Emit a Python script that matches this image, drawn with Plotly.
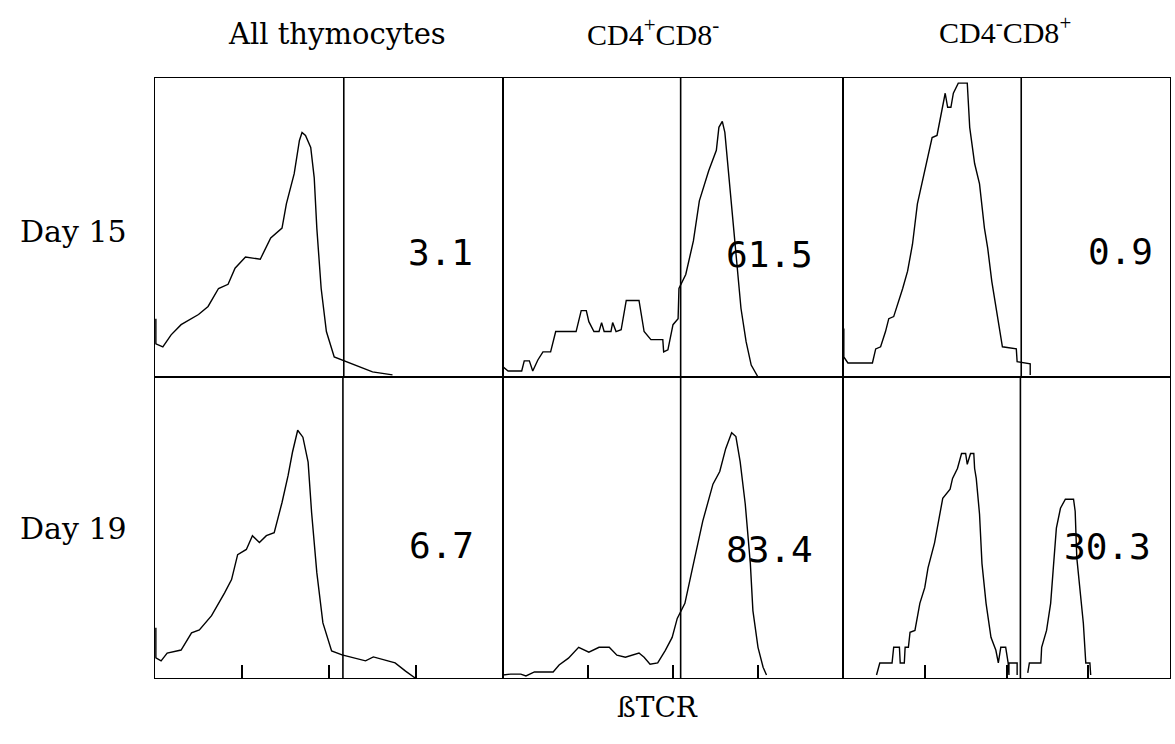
import plotly.graph_objects as go
from plotly.subplots import make_subplots

# ---- data: x = log10 βTCR fluorescence (decades 0-4), y = relative cell number (% of panel height)
d15_all_x = [0.01, 0.01, 0.09, 0.185, 0.30, 0.50, 0.61, 0.73, 0.84, 0.92, 1.04, 1.21, 1.33, 1.46, 1.51, 1.60, 1.66, 1.69, 1.73, 1.79, 1.83, 1.86, 1.91, 1.97, 2.06, 2.15, 2.35, 2.50, 2.73]
d15_all_y = [19.5, 11.1, 10.1, 14.1, 17.5, 20.9, 23.6, 29.6, 31.0, 36.4, 40.1, 39.4, 46.5, 49.8, 57.9, 68.0, 79.1, 81.8, 80.8, 76.8, 66.7, 49.8, 29.6, 15.2, 6.7, 5.7, 3.4, 1.7, 0.7]

d19_all_x = [0.01, 0.01, 0.07, 0.14, 0.30, 0.42, 0.51, 0.65, 0.80, 0.88, 0.95, 1.05, 1.12, 1.20, 1.28, 1.37, 1.46, 1.53, 1.58, 1.64, 1.70, 1.76, 1.80, 1.86, 1.93, 2.03, 2.15, 2.27, 2.42, 2.51, 2.65, 2.76, 2.88, 2.99]
d19_all_y = [16.7, 6.7, 5.7, 8.3, 9.3, 15.0, 16.0, 20.7, 28.3, 32.7, 41.0, 42.7, 47.3, 45.0, 47.3, 48.3, 58.3, 67.3, 75.0, 82.3, 80.0, 71.7, 55.0, 35.0, 18.3, 9.0, 7.7, 6.7, 5.7, 7.0, 6.0, 5.0, 2.3, 0.0]

d15_cd4_x = [0.0, 0.0, 0.06, 0.22, 0.25, 0.31, 0.35, 0.41, 0.47, 0.56, 0.62, 0.86, 0.92, 0.98, 1.01, 1.07, 1.13, 1.16, 1.19, 1.27, 1.29, 1.33, 1.39, 1.45, 1.60, 1.66, 1.74, 1.88, 1.89, 1.94, 2.00, 2.06, 2.07, 2.15, 2.24, 2.31, 2.42, 2.51, 2.54, 2.58, 2.61, 2.66, 2.71, 2.75, 2.80, 2.86, 2.92, 3.00]
d15_cd4_y = [10.8, 3.4, 2.0, 2.0, 5.4, 5.4, 2.0, 5.7, 8.4, 8.4, 15.2, 15.2, 22.2, 22.2, 18.5, 15.2, 15.2, 18.2, 15.2, 15.2, 18.2, 15.2, 15.8, 25.6, 25.6, 15.2, 12.5, 12.5, 8.4, 9.1, 17.5, 19.5, 29.6, 34.3, 45.5, 58.9, 69.0, 75.8, 83.5, 85.5, 81.8, 65.7, 49.8, 36.4, 22.9, 11.8, 4.0, 0.0]

d19_cd4_x = [0.0, 0.09, 0.21, 0.27, 0.37, 0.59, 0.66, 0.77, 0.89, 1.01, 1.13, 1.25, 1.34, 1.44, 1.60, 1.66, 1.73, 1.82, 1.91, 1.99, 2.05, 2.14, 2.23, 2.35, 2.47, 2.55, 2.62, 2.69, 2.74, 2.79, 2.85, 2.91, 2.94, 3.00, 3.06, 3.10]
d19_cd4_y = [1.0, 1.3, 1.3, 0.7, 2.0, 2.0, 4.3, 6.6, 10.2, 8.6, 10.2, 10.2, 7.6, 6.9, 8.3, 6.9, 4.6, 5.0, 9.2, 13.5, 19.8, 24.8, 36.6, 52.1, 64.4, 68.6, 76.2, 81.5, 80.2, 71.9, 57.8, 38.0, 22.4, 10.2, 3.6, 1.0]

d15_cd8_x = [0.01, 0.01, 0.06, 0.36, 0.40, 0.46, 0.52, 0.56, 0.62, 0.67, 0.73, 0.79, 0.85, 0.91, 0.97, 1.03, 1.09, 1.15, 1.20, 1.25, 1.28, 1.32, 1.35, 1.41, 1.52, 1.55, 1.61, 1.67, 1.73, 1.77, 1.82, 1.89, 1.95, 2.12, 2.13, 2.29, 2.29]
d15_cd8_y = [16.2, 6.7, 4.7, 4.7, 9.4, 10.1, 15.2, 19.5, 20.2, 24.2, 29.6, 35.4, 44.4, 57.9, 65.0, 72.4, 80.1, 80.8, 88.2, 94.9, 90.2, 90.2, 94.9, 98.3, 98.3, 83.5, 71.4, 64.6, 49.8, 43.1, 32.0, 19.5, 10.1, 9.4, 5.1, 4.4, 0.7]

d19_cd8_x = [0.41, 0.45, 0.60, 0.62, 0.69, 0.70, 0.75, 0.76, 0.80, 0.82, 0.88, 0.94, 1.00, 1.04, 1.12, 1.18, 1.22, 1.31, 1.34, 1.40, 1.45, 1.50, 1.52, 1.56, 1.60, 1.61, 1.63, 1.67, 1.70, 1.75, 1.81, 1.87, 1.90, 1.93, 1.99, 2.02, 2.03, 2.03, 2.13, 2.13,
             None,
             2.26, 2.28, 2.42, 2.43, 2.49, 2.54, 2.57, 2.61, 2.66, 2.72, 2.82, 2.84, 2.86, 2.90, 2.94, 2.97, 3.02, 3.03]
d19_cd8_y = [1.0, 5.0, 5.0, 10.2, 10.2, 5.0, 5.0, 10.2, 10.2, 15.2, 15.8, 24.8, 30.0, 36.6, 44.9, 53.1, 59.7, 62.7, 66.3, 69.6, 74.6, 74.6, 71.0, 74.6, 74.6, 69.6, 66.3, 54.5, 38.0, 24.8, 13.5, 9.2, 5.0, 10.2, 10.2, 5.0, 1.0, 5.0, 5.0, 1.0,
             None,
             1.7, 5.0, 5.0, 10.2, 15.8, 24.8, 35.6, 49.8, 56.4, 59.4, 59.4, 55.4, 39.9, 29.0, 18.2, 5.0, 5.0, 1.0]

# gate (marker) positions in decades, per panel [row][col]
gates = [[2.17, 2.09, 2.18], [2.16, 2.09, 2.17]]
# percentage of cells in the gate
pct_labels = [["3.1", "61.5", "0.9"], ["6.7", "83.4", "30.3"]]
col_titles = ["All thymocytes", "CD4<sup>+</sup>CD8<sup>-</sup>", "CD4<sup>-</sup>CD8<sup>+</sup>"]
row_titles = ["Day 15", "Day 19"]
x_title = "ßTCR"
decade_ticks = [1, 2, 3]

series = [[(d15_all_x, d15_all_y), (d15_cd4_x, d15_cd4_y), (d15_cd8_x, d15_cd8_y)],
          [(d19_all_x, d19_all_y), (d19_cd4_x, d19_cd4_y), (d19_cd8_x, d19_cd8_y)]]

# label anchor positions (decades, % height)
lab_x = [[3.28, 3.13, 3.39], [3.29, 3.13, 3.24]]
lab_y = [[41.8, 41.1, 42.1], [43.9, 42.6, 43.6]]

W, H = 1175, 744

fig = make_subplots(rows=2, cols=3, horizontal_spacing=0, vertical_spacing=0,
                    column_widths=[348, 340, 327])

serif = "DejaVu Serif"
mono = "DejaVu Sans Mono"

for r in range(2):
    for c in range(3):
        xs, ys = series[r][c]
        fig.add_trace(go.Scatter(x=xs, y=ys, mode="lines", connectgaps=False,
                                 line=dict(color="black", width=1.4), showlegend=False,
                                 hoverinfo="skip"), row=r + 1, col=c + 1)
        idx = r * 3 + c + 1
        xref = "x" if idx == 1 else f"x{idx}"
        yref = "y" if idx == 1 else f"y{idx}"
        fig.add_shape(type="line", xref=xref, yref=yref + " domain",
                      x0=gates[r][c], x1=gates[r][c], y0=0, y1=1,
                      line=dict(color="black", width=1.6))
        fig.add_annotation(x=lab_x[r][c], y=lab_y[r][c], xref=xref, yref=yref,
                           text=pct_labels[r][c], showarrow=False,
                           font=dict(family=mono, size=36, color="black"))
        fig.update_xaxes(range=[0, 4], showgrid=False, zeroline=False, showline=True,
                         mirror=True, linecolor="black", linewidth=1.3,
                         showticklabels=False,
                         ticks="inside" if r == 1 else "",
                         tickvals=decade_ticks, ticklen=13, tickwidth=1.5, tickcolor="black",
                         row=r + 1, col=c + 1)
        fig.update_yaxes(range=[0, 100], showgrid=False, zeroline=False, showline=True,
                         mirror=True, linecolor="black", linewidth=1.3,
                         showticklabels=False, ticks="", row=r + 1, col=c + 1)

# column titles
col_cx = [337, 653, 1005]
col_cy = [34, 32, 30]
col_font = [dict(family=serif, size=29, color="black"),
            dict(family="Liberation Serif", size=30, color="black"),
            dict(family="Liberation Serif", size=30, color="black")]
for c in range(3):
    fig.add_annotation(x=col_cx[c] / W, y=1 - col_cy[c] / H, xref="paper", yref="paper",
                       text=col_titles[c], showarrow=False, xanchor="center", yanchor="middle",
                       font=col_font[c])
row_cy = [231, 528]
for r in range(2):
    fig.add_annotation(x=73 / W, y=1 - row_cy[r] / H, xref="paper", yref="paper",
                       text=row_titles[r], showarrow=False, xanchor="center", yanchor="middle",
                       font=dict(family=serif, size=30, color="black"))
fig.add_annotation(x=657 / W, y=1 - 707 / H, xref="paper", yref="paper",
                   text=x_title, showarrow=False, xanchor="center", yanchor="middle",
                   font=dict(family=serif, size=28, color="black"))

fig.update_layout(width=W, height=H, margin=dict(l=0, r=0, t=0, b=0),
                  paper_bgcolor="white", plot_bgcolor="white")

# explicit panel domains (pixels -> figure fractions)
xd = [(155, 503), (503, 843), (843, 1170)]
yd = [(78, 377), (377, 678)]
for r in range(2):
    for c in range(3):
        idx = r * 3 + c + 1
        xa = "xaxis" if idx == 1 else f"xaxis{idx}"
        ya = "yaxis" if idx == 1 else f"yaxis{idx}"
        fig.layout[xa].domain = [xd[c][0] / W, xd[c][1] / W]
        fig.layout[ya].domain = [1 - yd[r][1] / H, 1 - yd[r][0] / H]

fig.write_html("out.html", config={"displayModeBar": False},
               post_script="document.body.style.margin='0px';")
